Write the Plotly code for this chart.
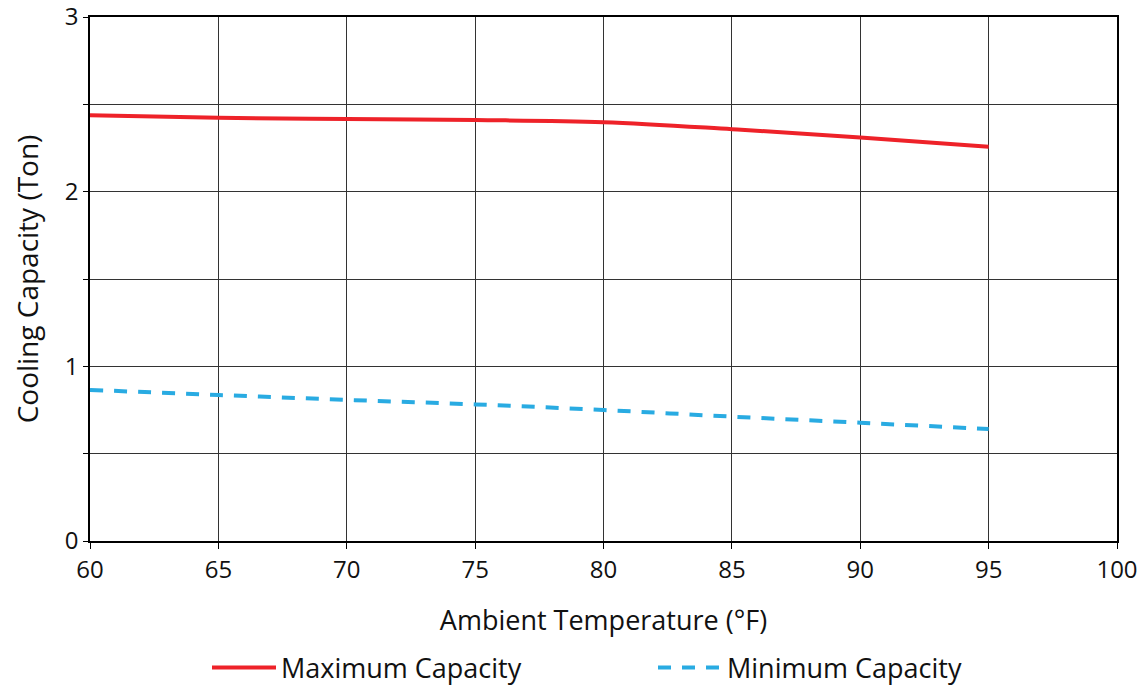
import plotly.graph_objects as go

temps = [60, 65, 70, 75, 80, 85, 90, 95]
max_capacity = [2.438, 2.423, 2.416, 2.41, 2.398, 2.358, 2.31, 2.257]
min_capacity = [0.865, 0.836, 0.808, 0.782, 0.75, 0.712, 0.677, 0.641]

font_family = "'Open Sans', Lato, sans-serif"

fig = go.Figure()
fig.add_trace(go.Scatter(x=temps, y=max_capacity, mode="lines", name="Maximum Capacity",
                         line=dict(color="#ee2229", width=4), line_shape="spline",
                         legend="legend"))
fig.add_trace(go.Scatter(x=temps, y=min_capacity, mode="lines", name="Minimum Capacity",
                         line=dict(color="#29abe2", width=4, dash="13px,11px"), line_shape="spline",
                         legend="legend2"))

yt = [0, 0.5, 1, 1.5, 2, 2.5, 3]
yl = ["0", "", "1", "", "2", "", "3"]

# page body has an 8px default margin; size figure to fit the window
W, H = 1139, 679
L, R, T, B = 82, 30, 9, 146

def px_to_cont_x(px):
    return (px - 8) / W

def px_to_cont_y(py):
    return 1 - (py - 8) / H

leg_common = dict(orientation="h", xanchor="left", yanchor="middle",
                  xref="container", yref="container",
                  font=dict(size=27), itemwidth=64, bgcolor="rgba(0,0,0,0)")

fig.update_layout(
    width=W, height=H,
    margin=dict(l=L, r=R, t=T, b=B),
    paper_bgcolor="white", plot_bgcolor="white",
    font=dict(family=font_family, size=24, color="#111"),
    showlegend=True,
    legend=dict(x=px_to_cont_x(207), y=px_to_cont_y(668), **leg_common),
    legend2=dict(x=px_to_cont_x(653), y=px_to_cont_y(668), **leg_common),
    xaxis=dict(range=[60, 100], tickvals=list(range(60, 101, 5)),
               showgrid=True, gridcolor="#333", gridwidth=1,
               showline=True, linecolor="black", linewidth=1.5, mirror=True,
               ticks="outside", ticklen=6, tickcolor="black",
               title=dict(text="Ambient Temperature (°F)", font=dict(size=27), standoff=28),
               zeroline=False, automargin=False, ticklabeloverflow="allow"),
    yaxis=dict(range=[0, 3], tickvals=yt, ticktext=yl,
               showgrid=True, gridcolor="#333", gridwidth=1,
               showline=True, linecolor="black", linewidth=1.5, mirror=True,
               ticks="outside", ticklen=5, tickcolor="black",
               title=dict(text="Cooling Capacity (Ton)", font=dict(size=28), standoff=34),
               zeroline=False, automargin=False, ticklabeloverflow="allow"),
)

fig.write_html("out.html")
